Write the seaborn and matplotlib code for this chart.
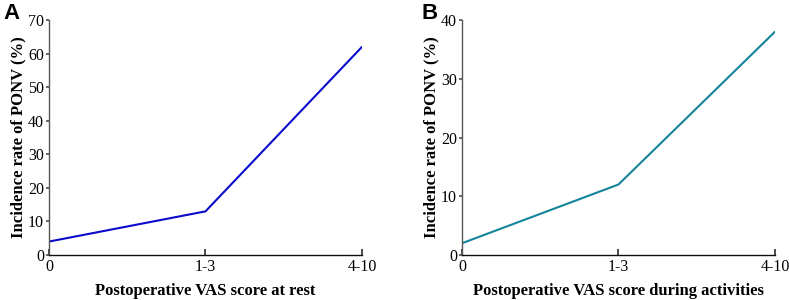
import matplotlib
matplotlib.use("Agg")
import matplotlib.pyplot as plt
import seaborn as sns
import pandas as pd

categories = ["0", "1-3", "4-10"]
rest_values = [4, 13, 62]
activity_values = [2, 12, 38]

sns.set_theme(style="ticks")
plt.rcParams['font.family'] = ['Liberation Serif', 'DejaVu Serif']
plt.rcParams['text.color'] = 'black'
plt.rcParams['axes.labelcolor'] = 'black'
plt.rcParams['xtick.labelcolor'] = 'black'
plt.rcParams['ytick.labelcolor'] = 'black'

fig = plt.figure(figsize=(7.89, 3.00), dpi=100)
axA = fig.add_axes([0.0621, 0.15, 0.3967, 0.7833])
axB = fig.add_axes([0.5855, 0.15, 0.3967, 0.7833])

panels = [
    (axA, rest_values, "#0A0ACD", 70, 10, "Postoperative VAS score at rest", "A", 0.004),
    (axB, activity_values, "#13849A", 40, 10, "Postoperative VAS score during activities", "B", 0.534),
]

for ax, vals, color, ymax, step, xlabel, letter, lx in panels:
    df = pd.DataFrame({"x": list(range(len(categories))), "y": vals})
    sns.lineplot(data=df, x="x", y="y", ax=ax, color=color, linewidth=1.5)
    ax.set_xlim(0, len(categories) - 1)
    ax.set_ylim(0, ymax)
    ax.set_xticks(range(len(categories)))
    ax.set_xticklabels(categories)
    ax.set_yticks(range(0, ymax + 1, step))
    ax.tick_params(axis="x", direction="in", length=4, labelsize=11.5, pad=3, color="#333333")
    ax.tick_params(axis="y", direction="out", length=2.5, labelsize=11.5, pad=1, color="#555555")
    for s in ["top", "right"]:
        ax.spines[s].set_visible(False)
    ax.spines["left"].set_color("#555555")
    ax.spines["bottom"].set_color("#111111")
    ax.spines["left"].set_linewidth(1.0)
    ax.spines["bottom"].set_linewidth(1.0)
    ax.set_xlabel(xlabel, fontsize=12, fontweight="bold")
    ax.set_ylabel("Incidence rate of PONV (%)", fontsize=12, fontweight="bold")
    ax.xaxis.set_label_coords(0.5, -0.118)
    ax.yaxis.set_label_coords(-0.072, 0.5)
    fig.text(lx, 0.99, letter, fontsize=16, fontweight="bold", family=["Liberation Sans"], va="top", ha="left")

fig.savefig("out.png", dpi=100)
